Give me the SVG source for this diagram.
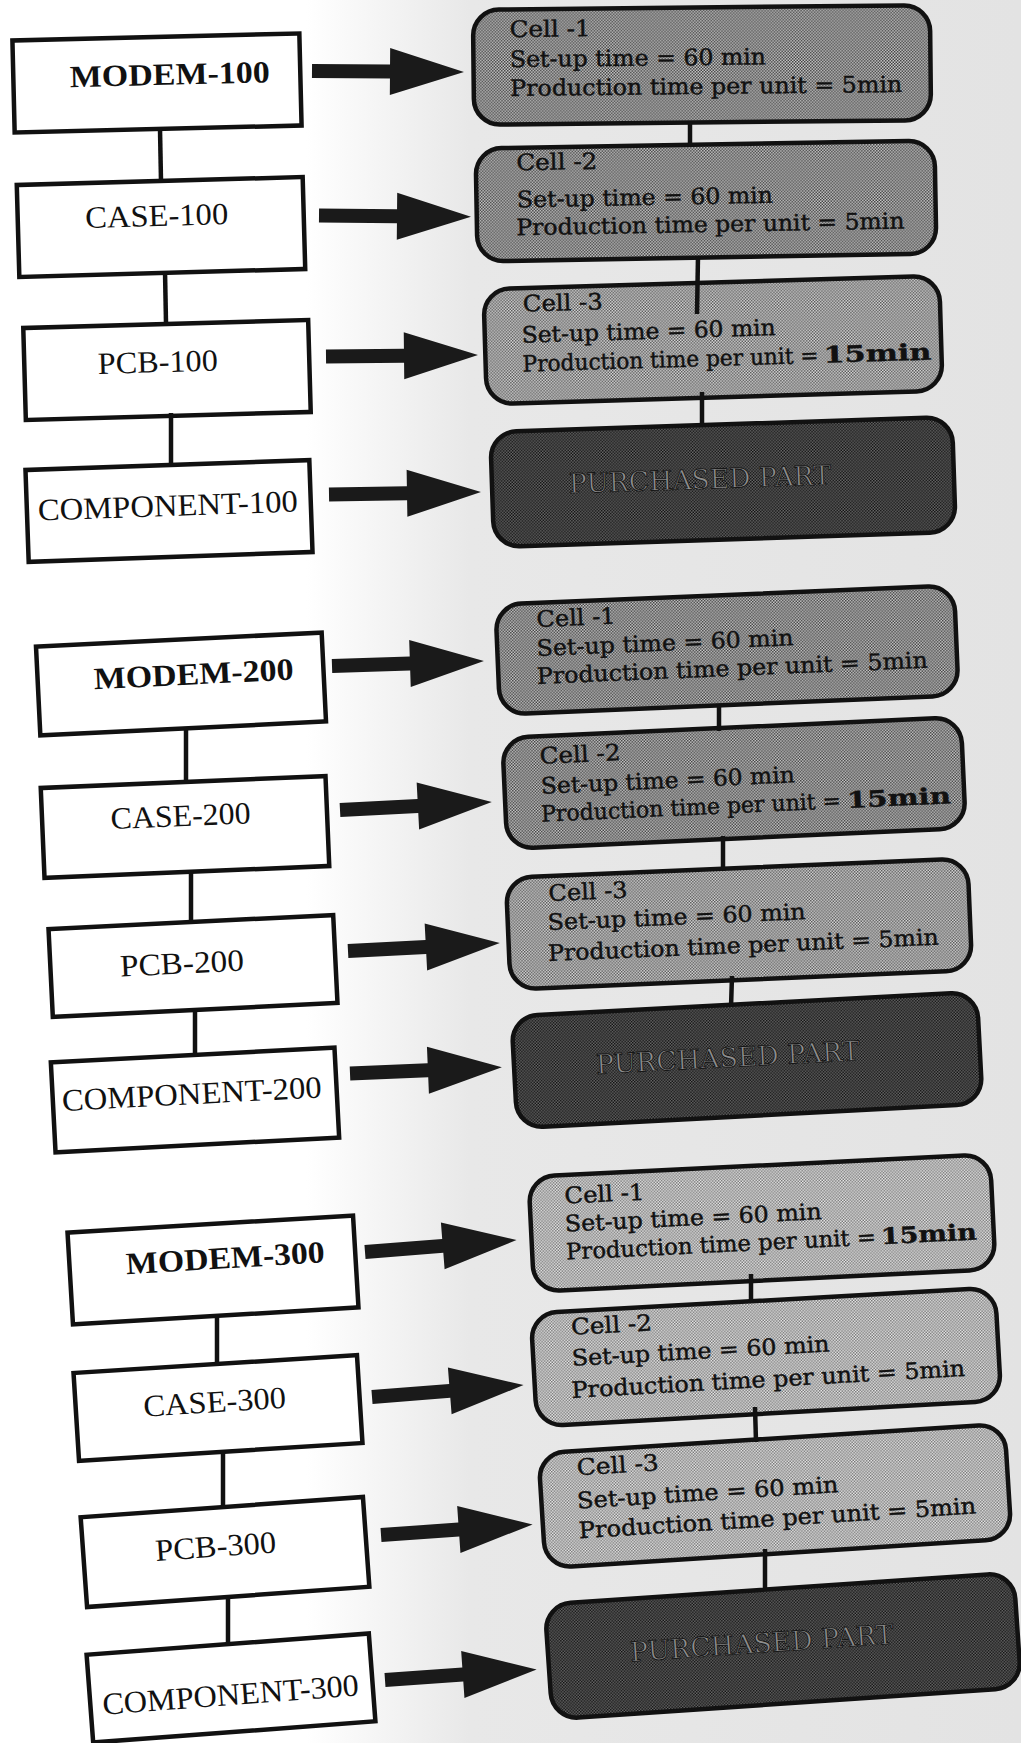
<svg xmlns="http://www.w3.org/2000/svg" width="1021" height="1743" viewBox="0 0 1021 1743">
  <defs>
    <style>
      .part { fill:#ffffff; stroke:#111111; stroke-width:4.5; }
      .lbl { font-family:"Liberation Serif","Times New Roman",serif; font-size:31px; text-anchor:middle; fill:#111111; }
      .b { font-weight:bold; }
      .cell { stroke:#111111; stroke-width:4.5; }
      .ct { font-family:"DejaVu Serif","Liberation Serif",serif; font-size:22.5px; fill:#111111; stroke:#111111; stroke-width:0.45; }
      .pp { font-family:"DejaVu Serif","Liberation Serif",serif; font-size:27px; text-anchor:middle; fill:#8e8e8e; stroke:#161616; stroke-width:0.9; }
      .link { stroke:#111111; stroke-width:4.5; fill:none; }
      .arrow { fill:#1a1a1a; }
    </style>
    <!-- halftone screens for the cell boxes -->
    <pattern id="dotMid" width="3" height="3" patternUnits="userSpaceOnUse">
      <rect width="3" height="3" fill="#cdcdcd"/>
      <rect width="1.5" height="1.5" fill="#3c3c3c"/>
      <rect x="1.5" y="1.5" width="1.5" height="1.5" fill="#3c3c3c"/>
    </pattern>
    <pattern id="dotMidLight" width="3" height="3" patternUnits="userSpaceOnUse">
      <rect width="3" height="3" fill="#dcdcdc"/>
      <rect width="1.5" height="1.5" fill="#525252"/>
      <rect x="1.5" y="1.5" width="1.5" height="1.5" fill="#525252"/>
    </pattern>
    <pattern id="dotLight" width="3" height="3" patternUnits="userSpaceOnUse">
      <rect width="3" height="3" fill="#ededed"/>
      <rect width="1.5" height="1.5" fill="#707070"/>
      <rect x="1.5" y="1.5" width="1.5" height="1.5" fill="#707070"/>
    </pattern>
    <pattern id="dotDark" width="3" height="3" patternUnits="userSpaceOnUse">
      <rect width="3" height="3" fill="#6a6a6a"/>
      <rect width="1.5" height="1.5" fill="#0e0e0e"/>
      <rect x="1.5" y="1.5" width="1.5" height="1.5" fill="#0e0e0e"/>
    </pattern>
    <linearGradient id="haze" x1="0" y1="0" x2="1021" y2="0" gradientUnits="userSpaceOnUse">
      <stop offset="0.30" stop-color="#ffffff"/>
      <stop offset="0.46" stop-color="#e8e8e8"/>
      <stop offset="1" stop-color="#e3e3e3"/>
    </linearGradient>
    <!-- block arrow: shaft then triangular head, pointing right -->
    <path id="blockArrow" d="M0,-7 H78 V-23.5 L152,0 L78,23.5 V7 H0 Z"/>
  </defs>

  <rect x="0" y="0" width="1021" height="1743" fill="url(#haze)"/>

  <!-- part structure, left column -->
  <g id="modem-100" transform="translate(157 83) rotate(-1.4)">
    <rect class="part" x="-143.5" y="-46" width="287" height="92"/>
    <text class="lbl b" x="13" y="2" textLength="200" lengthAdjust="spacingAndGlyphs">MODEM-100</text>
  </g>
  <g id="case-100" transform="translate(161 227) rotate(-1.6)">
    <rect class="part" x="-143" y="-46" width="286" height="92"/>
    <text class="lbl" x="-4" y="-1" textLength="143" lengthAdjust="spacingAndGlyphs">CASE-100</text>
  </g>
  <g id="pcb-100" transform="translate(167 370) rotate(-1.6)">
    <rect class="part" x="-142.5" y="-46" width="285" height="92"/>
    <text class="lbl" x="-9" y="2" textLength="120" lengthAdjust="spacingAndGlyphs">PCB-100</text>
  </g>
  <g id="component-100" transform="translate(169 511) rotate(-2)">
    <rect class="part" x="-142" y="-46" width="284" height="92"/>
    <text class="lbl" x="-1" y="5" textLength="260" lengthAdjust="spacingAndGlyphs">COMPONENT-100</text>
  </g>

  <g id="modem-200" transform="translate(181 684) rotate(-2.8)">
    <rect class="part" x="-143" y="-44.5" width="286" height="89"/>
    <text class="lbl b" x="13" y="1" textLength="200" lengthAdjust="spacingAndGlyphs">MODEM-200</text>
  </g>
  <g id="case-200" transform="translate(185 827) rotate(-2.4)">
    <rect class="part" x="-142.5" y="-45" width="285" height="90"/>
    <text class="lbl" x="-4" y="-1" textLength="140" lengthAdjust="spacingAndGlyphs">CASE-200</text>
  </g>
  <g id="pcb-200" transform="translate(193 966) rotate(-2.8)">
    <rect class="part" x="-142.5" y="-44" width="285" height="88"/>
    <text class="lbl" x="-11" y="7" textLength="124" lengthAdjust="spacingAndGlyphs">PCB-200</text>
  </g>
  <g id="component-200" transform="translate(195 1100) rotate(-3)">
    <rect class="part" x="-142" y="-45" width="284" height="90"/>
    <text class="lbl" x="-3" y="4" textLength="260" lengthAdjust="spacingAndGlyphs">COMPONENT-200</text>
  </g>

  <g id="modem-300" transform="translate(213 1270) rotate(-3.4)">
    <rect class="part" x="-143" y="-46" width="286" height="92"/>
    <text class="lbl b" x="13" y="-1" textLength="199" lengthAdjust="spacingAndGlyphs">MODEM-300</text>
  </g>
  <g id="case-300" transform="translate(218 1408) rotate(-3.6)">
    <rect class="part" x="-142" y="-44" width="284" height="88"/>
    <text class="lbl" x="-3" y="4" textLength="143" lengthAdjust="spacingAndGlyphs">CASE-300</text>
  </g>
  <g id="pcb-300" transform="translate(225 1552) rotate(-4.1)">
    <rect class="part" x="-141.5" y="-45" width="283" height="90"/>
    <text class="lbl" x="-9" y="4" textLength="121" lengthAdjust="spacingAndGlyphs">PCB-300</text>
  </g>
  <g id="component-300" transform="translate(231 1688) rotate(-4.3)">
    <rect class="part" x="-141.5" y="-44" width="283" height="88"/>
    <text class="lbl" x="-1" y="17" textLength="257" lengthAdjust="spacingAndGlyphs">COMPONENT-300</text>
  </g>

  <!-- manufacturing cells, right column -->
  <g id="cell1-100" transform="translate(702 65) rotate(-0.6)">
    <rect class="cell" x="-228.5" y="-57.5" width="457" height="115" rx="26" fill="url(#dotMid)"/>
    <text class="ct" x="-192" y="-30" textLength="81" lengthAdjust="spacingAndGlyphs">Cell -1</text>
    <text class="ct" x="-192" y="0" textLength="256" lengthAdjust="spacingAndGlyphs">Set-up time = 60 min</text>
    <text class="ct" x="-192" y="29" textLength="392" lengthAdjust="spacingAndGlyphs">Production time per unit = 5min</text>
  </g>
  <g id="cell2-100" transform="translate(706 201) rotate(-1)">
    <rect class="cell" x="-229.5" y="-56.5" width="459" height="113" rx="26" fill="url(#dotMid)"/>
    <text class="ct" x="-189" y="-34" textLength="81" lengthAdjust="spacingAndGlyphs">Cell -2</text>
    <text class="ct" x="-189" y="3" textLength="256" lengthAdjust="spacingAndGlyphs">Set-up time = 60 min</text>
    <text class="ct" x="-190" y="31" textLength="388" lengthAdjust="spacingAndGlyphs">Production time per unit = 5min</text>
  </g>
  <g id="cell3-100" transform="translate(713 340) rotate(-1.7)">
    <rect class="cell" x="-228" y="-57.5" width="456" height="115" rx="26" fill="url(#dotMidLight)"/>
    <text class="ct" x="-189" y="-34" textLength="80" lengthAdjust="spacingAndGlyphs">Cell -3</text>
    <text class="ct" x="-191" y="-3" textLength="254" lengthAdjust="spacingAndGlyphs">Set-up time = 60 min</text>
    <text class="ct" x="-191" y="26" textLength="296" lengthAdjust="spacingAndGlyphs">Production time per unit =</text>
    <text class="ct b" x="110" y="26" textLength="108" lengthAdjust="spacingAndGlyphs">15min</text>
  </g>
  <g id="purchased-100" transform="translate(723 482) rotate(-1.9)">
    <rect class="cell" x="-231" y="-57.5" width="462" height="115" rx="26" fill="url(#dotDark)"/>
    <text class="pp" x="-23" y="6" textLength="262" lengthAdjust="spacingAndGlyphs">PURCHASED PART</text>
  </g>

  <g id="cell1-200" transform="translate(727 650) rotate(-2.4)">
    <rect class="cell" x="-229.5" y="-55" width="459" height="110" rx="26" fill="url(#dotMid)"/>
    <text class="ct" x="-189" y="-31" textLength="79" lengthAdjust="spacingAndGlyphs">Cell -1</text>
    <text class="ct" x="-190" y="-2" textLength="257" lengthAdjust="spacingAndGlyphs">Set-up time = 60 min</text>
    <text class="ct" x="-191" y="26" textLength="391" lengthAdjust="spacingAndGlyphs">Production time per unit = 5min</text>
  </g>
  <g id="cell2-200" transform="translate(734 783) rotate(-2.6)">
    <rect class="cell" x="-229.5" y="-55.5" width="459" height="111" rx="26" fill="url(#dotMid)"/>
    <text class="ct" x="-193" y="-28" textLength="81" lengthAdjust="spacingAndGlyphs">Cell -2</text>
    <text class="ct" x="-193" y="2" textLength="254" lengthAdjust="spacingAndGlyphs">Set-up time = 60 min</text>
    <text class="ct" x="-194" y="30" textLength="300" lengthAdjust="spacingAndGlyphs">Production time per unit =</text>
    <text class="ct b" x="112" y="30" textLength="104" lengthAdjust="spacingAndGlyphs">15min</text>
  </g>
  <g id="cell3-200" transform="translate(739 924) rotate(-2.4)">
    <rect class="cell" x="-231" y="-56" width="462" height="112" rx="26" fill="url(#dotMidLight)"/>
    <text class="ct" x="-189" y="-31" textLength="79" lengthAdjust="spacingAndGlyphs">Cell -3</text>
    <text class="ct" x="-191" y="-2" textLength="258" lengthAdjust="spacingAndGlyphs">Set-up time = 60 min</text>
    <text class="ct" x="-192" y="29" textLength="391" lengthAdjust="spacingAndGlyphs">Production time per unit = 5min</text>
  </g>
  <g id="purchased-200" transform="translate(747 1060) rotate(-3)">
    <rect class="cell" x="-233" y="-56" width="466" height="112" rx="26" fill="url(#dotDark)"/>
    <text class="pp" x="-19" y="6" textLength="264" lengthAdjust="spacingAndGlyphs">PURCHASED PART</text>
  </g>

  <g id="cell1-300" transform="translate(762 1223) rotate(-2.8)">
    <rect class="cell" x="-231" y="-57.5" width="462" height="115" rx="26" fill="url(#dotLight)"/>
    <text class="ct" x="-196" y="-29" textLength="80" lengthAdjust="spacingAndGlyphs">Cell -1</text>
    <text class="ct" x="-197" y="-1" textLength="257" lengthAdjust="spacingAndGlyphs">Set-up time = 60 min</text>
    <text class="ct" x="-197" y="27" textLength="310" lengthAdjust="spacingAndGlyphs">Production time per unit =</text>
    <text class="ct b" x="118" y="27" textLength="96" lengthAdjust="spacingAndGlyphs">15min</text>
  </g>
  <g id="cell2-300" transform="translate(766 1357) rotate(-3.2)">
    <rect class="cell" x="-232.5" y="-56.5" width="465" height="113" rx="26" fill="url(#dotLight)"/>
    <text class="ct" x="-193" y="-33" textLength="81" lengthAdjust="spacingAndGlyphs">Cell -2</text>
    <text class="ct" x="-194" y="-2" textLength="258" lengthAdjust="spacingAndGlyphs">Set-up time = 60 min</text>
    <text class="ct" x="-196" y="30" textLength="394" lengthAdjust="spacingAndGlyphs">Production time per unit = 5min</text>
  </g>
  <g id="cell3-300" transform="translate(775 1496) rotate(-3.6)">
    <rect class="cell" x="-233.5" y="-57.5" width="467" height="115" rx="26" fill="url(#dotLight)"/>
    <text class="ct" x="-196" y="-33" textLength="82" lengthAdjust="spacingAndGlyphs">Cell -3</text>
    <text class="ct" x="-198" y="0" textLength="262" lengthAdjust="spacingAndGlyphs">Set-up time = 60 min</text>
    <text class="ct" x="-198" y="30" textLength="398" lengthAdjust="spacingAndGlyphs">Production time per unit = 5min</text>
  </g>
  <g id="purchased-300" transform="translate(783 1646) rotate(-3.9)">
    <rect class="cell" x="-235" y="-57.5" width="470" height="115" rx="26" fill="url(#dotDark)"/>
    <text class="pp" x="-21" y="5" textLength="264" lengthAdjust="spacingAndGlyphs">PURCHASED PART</text>
  </g>

  <!-- links between parts, cells and the routing arrows -->
  <g id="connectors">
    <line class="link" x1="160" y1="129" x2="161" y2="181"/>
    <line class="link" x1="165" y1="271" x2="166" y2="323"/>
    <line class="link" x1="171" y1="413" x2="171" y2="463"/>
    <line class="link" x1="186" y1="727" x2="186" y2="781"/>
    <line class="link" x1="191" y1="870" x2="191" y2="923"/>
    <line class="link" x1="195" y1="1009" x2="195" y2="1056"/>
    <line class="link" x1="217" y1="1316" x2="217" y2="1366"/>
    <line class="link" x1="223" y1="1450" x2="223" y2="1508"/>
    <line class="link" x1="228" y1="1596" x2="228" y2="1645"/>

    <line class="link" x1="690" y1="122" x2="690" y2="147"/>
    <line class="link" x1="698" y1="256" x2="697" y2="314"/>
    <line class="link" x1="702" y1="392" x2="702" y2="426"/>
    <line class="link" x1="719" y1="704" x2="719" y2="731"/>
    <line class="link" x1="723" y1="836" x2="723" y2="871"/>
    <line class="link" x1="732" y1="976" x2="731" y2="1007"/>
    <line class="link" x1="751" y1="1274" x2="751" y2="1301"/>
    <line class="link" x1="755" y1="1407" x2="756" y2="1442"/>
    <line class="link" x1="765" y1="1549" x2="765" y2="1589"/>

    <use href="#blockArrow" class="arrow" transform="translate(312 71) rotate(0.4)"/>
    <use href="#blockArrow" class="arrow" transform="translate(319 215.5) rotate(0.5)"/>
    <use href="#blockArrow" class="arrow" transform="translate(326 356.5) rotate(-0.6)"/>
    <use href="#blockArrow" class="arrow" transform="translate(329 494.5) rotate(-0.9)"/>
    <use href="#blockArrow" class="arrow" transform="translate(332 666) rotate(-1.9)"/>
    <use href="#blockArrow" class="arrow" transform="translate(340 810) rotate(-3)"/>
    <use href="#blockArrow" class="arrow" transform="translate(348 951) rotate(-3)"/>
    <use href="#blockArrow" class="arrow" transform="translate(350 1073.5) rotate(-2.4)"/>
    <use href="#blockArrow" class="arrow" transform="translate(365 1252) rotate(-4.5)"/>
    <use href="#blockArrow" class="arrow" transform="translate(372 1397) rotate(-4.5)"/>
    <use href="#blockArrow" class="arrow" transform="translate(381 1535) rotate(-4)"/>
    <use href="#blockArrow" class="arrow" transform="translate(385 1680) rotate(-4)"/>
  </g>
</svg>
